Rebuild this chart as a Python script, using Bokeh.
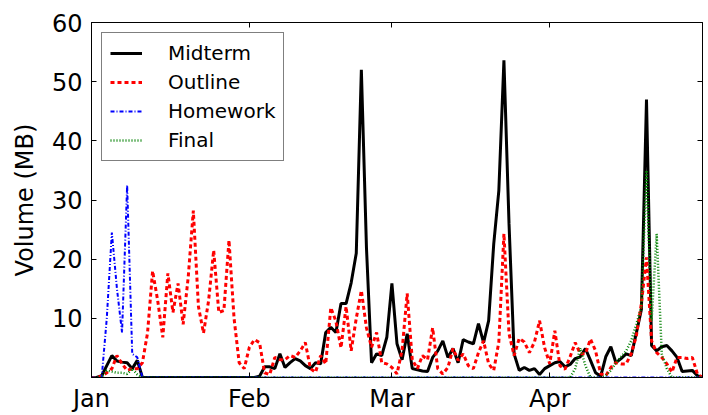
from bokeh.plotting import figure
from bokeh.models import Range1d, FixedTicker, LinearAxis, Legend, LegendItem, ColumnDataSource
from bokeh.embed import file_html
from bokeh.resources import INLINE

# day index from Jan 1
days = list(range(121))
month_start_days = [0, 31, 59, 90]
month_labels = ["Jan", "Feb", "Mar", "Apr"]
y_ticks = [10, 20, 30, 40, 50, 60]

midterm = [
    0, 0, 0.3, 2, 3.7, 2.8, 2.6, 2.5, 1.5, 2.9,
    0, 0, 0, 0, 0, 0, 0, 0, 0, 0,
    0, 0, 0, 0, 0, 0, 0, 0, 0, 0,
    0, 0, 0, 0.2, 1.8, 1.8, 1.5, 4.0, 1.7, 2.5,
    3.2, 2.8, 2.0, 1.5, 2.5, 2.3, 7.6, 8.5, 7.6, 12.5,
    12.5, 16, 21, 52, 22, 2.5, 4, 3.7, 6.8, 15.9,
    5.7, 3, 7.4, 1.5, 1.3, 1.1, 1.0, 3.4, 4.5, 6.2,
    3.4, 4.9, 2.5, 6.4, 6, 5.7, 9.1, 5.9, 9.6, 22.6,
    31.6, 53.6, 26, 4, 1.2, 1.7, 1.2, 1.5, 0.5, 1.5,
    2, 2.5, 2.7, 1.8, 2.2, 3.2, 3.5, 4.9, 2.9, 0.8,
    0.2, 3.5, 5.2, 2.5, 3.2, 4, 3.7, 7.5, 11.5, 47,
    5.4, 4.5, 5.2, 5.4, 4.5, 3.4, 1, 1.1, 1.2, 0.3,
    0,
]

outline = [
    0, 0, 0.2, 0.8, 1.5, 3.7, 2.3, 1.2, 1.5, 1.5,
    2.5, 7.5, 18, 13, 6.8, 17.6, 11, 15.9, 9, 17,
    28.2, 12, 7.5, 13, 21.5, 11, 11.3, 23.2, 10, 2.5,
    1.5, 5.1, 6.4, 5.9, 0.8, 0.5, 3.4, 3.0, 3.0, 3.7,
    3.4, 4.5, 5.9, 1.5, 0.9, 3.7, 2.3, 11.8, 9.5, 5,
    12, 4.5, 10, 14.7, 8.4, 5.1, 7.6, 2.5, 2.3, 1.7,
    0.6, 4.6, 14.2, 3, 1.5, 3.7, 3.0, 8.4, 1.5, 0.6,
    1.7, 4.9, 2.9, 4, 2, 1.5, 4.2, 6.2, 2.3, 1.2,
    6, 24.3, 7.4, 3.7, 6.6, 6, 4.2, 6, 9.6, 5,
    2.3, 7.9, 2, 1.4, 3.5, 5.9, 4, 4, 6.5, 4.5,
    0.6, 0.3, 1.7, 2.5, 2.3, 2.3, 4, 7, 12.5, 20.3,
    6.2, 4.2, 3.4, 2.3, 0.9, 3.4, 3.4, 3.2, 3.4, 0.6,
    0,
]

homework = [
    0, 0, 0, 10, 24.5, 15, 7.6, 32.5, 4, 3.4,
    0, 0, 0, 0, 0, 0, 0, 0, 0, 0,
    0, 0, 0, 0, 0, 0, 0, 0, 0, 0,
    0, 0, 0, 0, 0, 0, 0, 0, 0, 0,
    0, 0, 0, 0, 0, 0, 0, 0, 0, 0,
    0, 0, 0, 0, 0, 0, 0, 0, 0, 0,
    0, 0, 0, 0, 0, 0, 0, 0, 0, 0,
    0, 0, 0, 0, 0, 0, 0, 0, 0, 0,
    0, 0, 0, 0, 0, 0, 0, 0, 0, 0,
    0, 0, 0, 0, 0, 0, 0, 0, 0, 0,
    0, 0, 0, 0, 0, 0, 0, 0, 0, 0,
    0, 0, 0, 0, 0, 0, 0, 0, 0, 0,
    0,
]

final = [
    0, 0, 0, 1.2, 1.0, 0.8, 0.8, 0.6, 1.5, 0.5,
    0, 0, 0, 0, 0, 0, 0, 0, 0, 0,
    0, 0, 0, 0, 0, 0, 0, 0, 0, 0,
    0, 0, 0, 0, 0, 0, 0, 0, 0, 0,
    0, 0, 0, 0, 0, 0, 0, 0, 0, 0,
    0, 0, 0, 0, 0, 0, 0, 0, 0, 0,
    0, 0, 0, 0, 0, 0, 0, 0, 0, 0,
    0, 0, 0, 0, 0, 0, 0, 0, 0, 0,
    0, 0, 0, 0, 0, 0, 0, 0, 0, 0,
    0, 0, 0, 0, 0, 1.5, 5, 2, 0, 0,
    0, 0.3, 1.2, 2.5, 3.5, 4.5, 6.2, 9, 12, 35,
    9.6, 24.3, 4, 1.5, 0, 0, 0, 0, 0, 0,
    0,
]

FONT = "DejaVu Sans"

src = ColumnDataSource(dict(day=days, midterm=midterm, outline=outline,
                            homework=homework, final=final))

p = figure(width=708, height=415, output_backend="svg", toolbar_location=None,
           x_range=Range1d(0, 120), y_range=Range1d(0, 60),
           min_border_left=91, min_border_right=6, min_border_top=22, min_border_bottom=38)

r_mid = p.line("day", "midterm", source=src, line_color="black", line_width=3)
r_out = p.line("day", "outline", source=src, line_color="red", line_width=3, line_dash="4 3")
r_hw = p.line("day", "homework", source=src, line_color="blue", line_width=2, line_dash="4 2 1 2")
r_fin = p.line("day", "final", source=src, line_color="green", line_width=2.5, line_dash="1 2")

p.grid.visible = False
p.outline_line_color = "black"
p.outline_line_width = 1
p.background_fill_color = "white"
p.border_fill_color = "white"

def style_axis(ax, labels=True):
    ax.axis_line_color = "black"
    ax.major_tick_in = 5
    ax.major_tick_out = 0
    ax.minor_tick_line_color = None
    ax.major_tick_line_color = "black"
    ax.major_label_text_font = FONT
    ax.major_label_text_font_size = "24px" if labels else "0px"
    ax.major_label_text_color = "black"
    if not labels:
        ax.major_label_standoff = 0

xa = p.xaxis[0]
xa.ticker = FixedTicker(ticks=month_start_days)
xa.major_label_overrides = {d: lab for d, lab in zip(month_start_days, month_labels)}
style_axis(xa)
xa.major_label_standoff = 7

ya = p.yaxis[0]
ya.ticker = FixedTicker(ticks=y_ticks)
style_axis(ya)
ya.major_label_standoff = 9
ya.axis_label = "Volume (MB)"
ya.axis_label_text_font = FONT
ya.axis_label_text_font_size = "24px"
ya.axis_label_text_font_style = "normal"
ya.axis_label_text_color = "black"
ya.axis_label_standoff = 10

top = LinearAxis(ticker=FixedTicker(ticks=month_start_days),
                 major_label_overrides={d: "" for d in month_start_days})
style_axis(top, labels=False)
p.add_layout(top, "above")

right = LinearAxis(ticker=FixedTicker(ticks=y_ticks),
                   major_label_overrides={t: "" for t in y_ticks})
style_axis(right, labels=False)
p.add_layout(right, "right")

legend = Legend(items=[
    LegendItem(label="Midterm", renderers=[r_mid]),
    LegendItem(label="Outline", renderers=[r_out]),
    LegendItem(label="Homework", renderers=[r_hw]),
    LegendItem(label="Final", renderers=[r_fin]),
], location="top_left")
legend.margin = 10
legend.padding = 8
legend.spacing = 5
legend.glyph_width = 32
legend.glyph_height = 24
legend.label_height = 24
legend.label_standoff = 26
legend.label_text_font = FONT
legend.label_text_font_size = "20px"
legend.label_text_color = "black"
legend.border_line_color = "black"
legend.border_line_width = 1
legend.background_fill_color = "white"
legend.background_fill_alpha = 1
p.add_layout(legend)

open("out.html", "w").write(file_html(p, INLINE))
